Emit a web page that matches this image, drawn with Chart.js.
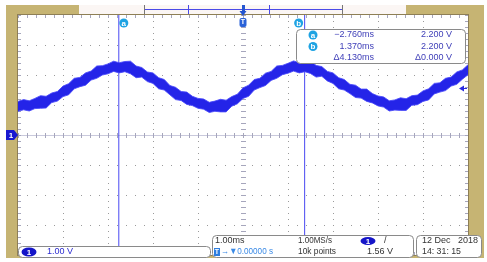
<!DOCTYPE html>
<html>
<head>
<meta charset="utf-8">
<script src="https://cdn.jsdelivr.net/npm/chart.js@4.4.1/dist/chart.umd.min.js"></script>
<style>
  html, body { margin: 0; padding: 0; background: #fff; }
  canvas { display: block; }
</style>
</head>
<body>
<canvas id="scope" width="487" height="262"></canvas>
<script>
// sample times in ms (trigger at 0), 1.00 ms/div
const sampleTimes = [
  -5, -4.875, -4.75, -4.625, -4.5, -4.375, -4.25, -4.125,
  -4, -3.875, -3.75, -3.625, -3.5, -3.375, -3.25, -3.125,
  -3, -2.875, -2.75, -2.625, -2.5, -2.375, -2.25, -2.125,
  -2, -1.875, -1.75, -1.625, -1.5, -1.375, -1.25, -1.125,
  -1, -0.875, -0.75, -0.625, -0.5, -0.375, -0.25, -0.125,
  0, 0.125, 0.25, 0.375, 0.5, 0.625, 0.75, 0.875,
  1, 1.125, 1.25, 1.375, 1.5, 1.625, 1.75, 1.875,
  2, 2.125, 2.25, 2.375, 2.5, 2.625, 2.75, 2.875,
  3, 3.125, 3.25, 3.375, 3.5, 3.625, 3.75, 3.875,
  4, 4.125, 4.25, 4.375, 4.5, 4.625, 4.75, 4.875,
  5
];

// CH1 noisy trace, upper and lower edge of the band (V)
const traceHigh = [
  1.12, 1.18, 1.14, 1.22, 1.31, 1.29, 1.40, 1.45,
  1.63, 1.71, 1.89, 1.92, 2.07, 2.13, 2.30, 2.31,
  2.37, 2.46, 2.41, 2.45, 2.46, 2.30, 2.25, 2.10,
  2.07, 1.91, 1.85, 1.65, 1.59, 1.45, 1.43, 1.29,
  1.22, 1.20, 1.09, 1.13, 1.19, 1.16, 1.28, 1.36,
  1.57, 1.66, 1.85, 1.89, 2.06, 2.12, 2.30, 2.32,
  2.39, 2.47, 2.41, 2.45, 2.47, 2.32, 2.28, 2.12,
  2.07, 1.91, 1.85, 1.69, 1.66, 1.53, 1.53, 1.38,
  1.30, 1.27, 1.14, 1.17, 1.24, 1.21, 1.31, 1.33,
  1.47, 1.54, 1.72, 1.74, 1.89, 1.93, 2.10, 2.17,
  2.34
];
const traceLow = [
  0.79, 0.84, 0.80, 0.88, 0.89, 0.90, 1.08, 1.13,
  1.28, 1.34, 1.54, 1.61, 1.66, 1.83, 1.89, 2.00,
  2.04, 2.12, 2.07, 2.11, 2.04, 1.91, 1.93, 1.78,
  1.72, 1.54, 1.50, 1.34, 1.18, 1.15, 1.02, 0.98,
  0.89, 0.86, 0.75, 0.79, 0.77, 0.77, 0.96, 1.04,
  1.22, 1.29, 1.50, 1.58, 1.65, 1.82, 1.89, 2.01,
  2.06, 2.13, 2.07, 2.11, 2.05, 1.93, 1.96, 1.80,
  1.72, 1.54, 1.50, 1.38, 1.25, 1.23, 1.12, 1.07,
  0.97, 0.93, 0.80, 0.83, 0.82, 0.82, 0.99, 1.01,
  1.12, 1.17, 1.37, 1.43, 1.48, 1.63, 1.69, 1.86,
  2.01
];

const cursorA = -2.76;
const cursorB = 1.37;
const triggerLevel = 1.56;
const timeRange = [-5, 5];  // 10 div
const voltRange = [-4, 4];  // 8 div, 1.00 V/div

const readoutRows = [
  ["a", "\u22122.760ms", "2.200 V"],
  ["b", "1.370ms", "2.200 V"],
  ["", "\u03944.130ms", "\u03940.000 V"]
];

const TAN = "#c6b473";
const FONT = "'Liberation Sans', Arial, sans-serif";

function pts(ys) {
  return sampleTimes.map((t, i) => ({ x: t, y: ys[i] }));
}

function cursorLine(t) {
  return [{ x: t, y: voltRange[0] }, { x: t, y: voltRange[1] }];
}

// tan frame, top memory bar
function drawFrame(chart) {
  const { ctx, chartArea: a } = chart;
  ctx.save();
  ctx.fillStyle = "#fff";
  ctx.fillRect(0, 0, chart.width, chart.height);
  ctx.fillStyle = TAN;
  ctx.fillRect(6, 5, 478, 253);
  ctx.fillStyle = "#fff";
  ctx.fillRect(a.left, a.top, a.right - a.left, a.bottom - a.top);

  // top bar
  ctx.fillStyle = "#fbf6f4";
  ctx.fillRect(79, 5, 327, 9);
  ctx.strokeStyle = "#777";
  ctx.lineWidth = 1;
  ctx.beginPath();
  ctx.moveTo(144.5, 5); ctx.lineTo(144.5, 14);
  ctx.moveTo(342.5, 5); ctx.lineTo(342.5, 14);
  ctx.stroke();
  ctx.strokeStyle = "#4a4ae8";
  ctx.beginPath();
  ctx.moveTo(145, 9.5); ctx.lineTo(342, 9.5);
  ctx.moveTo(188.5, 5); ctx.lineTo(188.5, 14);
  ctx.moveTo(269.5, 5); ctx.lineTo(269.5, 14);
  ctx.stroke();
  ctx.restore();
}

function drawGrid(chart) {
  const { ctx, chartArea: a, scales: { x, y } } = chart;
  const px = v => Math.round(x.getPixelForValue(v));
  const py = v => Math.round(y.getPixelForValue(v));
  ctx.save();
  ctx.fillStyle = "#9a9a9a";
  // dotted division lines
  for (let d = timeRange[0] + 1; d < timeRange[1]; d++) {
    if (d === 0) continue;
    for (let k = 0; k <= (voltRange[1] - voltRange[0]) * 5; k++) {
      ctx.fillRect(px(d), py(voltRange[0] + k / 5), 1, 1);
    }
  }
  for (let d = voltRange[0] + 1; d < voltRange[1]; d++) {
    if (d === 0) continue;
    for (let k = 0; k <= (timeRange[1] - timeRange[0]) * 5; k++) {
      ctx.fillRect(px(timeRange[0] + k / 5), py(d), 1, 1);
    }
  }
  // centre lines with ticks
  ctx.fillStyle = "#c9c9dc";
  ctx.fillRect(a.left, py(0), a.right - a.left, 1);
  ctx.fillStyle = "#a6a6bc";
  for (let k = 0; k <= (timeRange[1] - timeRange[0]) * 5; k++) {
    const xx = px(timeRange[0] + k / 5);
    ctx.fillRect(xx, py(0) - 2, 1, 5);
    ctx.fillRect(xx, a.top, 1, 3);
    ctx.fillRect(xx, a.bottom - 3, 1, 3);
  }
  for (let k = 0; k <= (voltRange[1] - voltRange[0]) * 5; k++) {
    const yy = py(voltRange[0] + k / 5);
    ctx.fillRect(px(0) - 2, yy, 5, 1);
    ctx.fillRect(a.left, yy, 3, 1);
    ctx.fillRect(a.right - 3, yy, 3, 1);
  }
  ctx.strokeStyle = "#8e7f55";
  ctx.lineWidth = 1;
  ctx.strokeRect(a.left - 0.5, a.top - 0.5, a.right - a.left + 1, a.bottom - a.top + 1);
  ctx.restore();
}

function circleLabel(ctx, cx, cy, r, fill, letter) {
  ctx.fillStyle = fill;
  ctx.beginPath();
  ctx.arc(cx, cy, r, 0, Math.PI * 2);
  ctx.fill();
  ctx.fillStyle = "#fff";
  ctx.font = "bold 8px " + FONT;
  ctx.textAlign = "center";
  ctx.textBaseline = "middle";
  ctx.fillText(letter, cx, cy + 0.5);
}

function pill(ctx, cx, cy, w, h) {
  ctx.fillStyle = "#1515c8";
  ctx.beginPath();
  ctx.ellipse(cx, cy, w / 2, h / 2, 0, 0, Math.PI * 2);
  ctx.fill();
  ctx.fillStyle = "#fff";
  ctx.font = "bold 8px " + FONT;
  ctx.textAlign = "center";
  ctx.textBaseline = "middle";
  ctx.fillText("1", cx, cy + 0.5);
}

function panel(ctx, x0, y0, w, h) {
  ctx.fillStyle = "#fff";
  ctx.strokeStyle = "#8a8a8a";
  ctx.lineWidth = 1;
  ctx.beginPath();
  ctx.roundRect(x0 + 0.5, y0 + 0.5, w, h, 4);
  ctx.fill();
  ctx.stroke();
}

function text(ctx, s, x0, y0, color, align, maxW) {
  ctx.fillStyle = color;
  ctx.font = "9px " + FONT;
  ctx.textAlign = align || "left";
  ctx.textBaseline = "middle";
  if (maxW) ctx.fillText(s, x0, y0, maxW);
  else ctx.fillText(s, x0, y0);
}

function drawOverlay(chart) {
  const { ctx, scales: { x, y } } = chart;
  ctx.save();

  // trigger position marker, top bar and graticule top
  const tx = x.getPixelForValue(0);
  ctx.fillStyle = "#2456d0";
  ctx.fillRect(tx - 1, 5, 3, 7);
  ctx.beginPath();
  ctx.moveTo(tx - 3.5, 11); ctx.lineTo(tx + 3.5, 11); ctx.lineTo(tx, 16);
  ctx.closePath(); ctx.fill();
  ctx.fillStyle = "#2a62d8";
  ctx.beginPath();
  ctx.roundRect(tx - 3.5, 18, 7, 9, 2);
  ctx.fill();
  ctx.fillStyle = "#fff";
  ctx.font = "bold 7px " + FONT;
  ctx.textAlign = "center";
  ctx.textBaseline = "middle";
  ctx.fillText("T", tx, 22.5);

  // cursor labels
  circleLabel(ctx, x.getPixelForValue(cursorA) + 5, 23, 4.5, "#1ea3e3", "a");
  circleLabel(ctx, x.getPixelForValue(cursorB) - 6, 23, 4.5, "#1ea3e3", "b");

  // channel 1 ground marker
  const gy = y.getPixelForValue(0);
  ctx.fillStyle = "#1818d0";
  ctx.beginPath();
  ctx.moveTo(6, gy - 5); ctx.lineTo(14, gy - 5); ctx.lineTo(18, gy);
  ctx.lineTo(14, gy + 5); ctx.lineTo(6, gy + 5);
  ctx.closePath(); ctx.fill();
  ctx.fillStyle = "#fff";
  ctx.font = "bold 8px " + FONT;
  ctx.fillText("1", 11, gy + 0.5);

  // trigger level arrow
  const ly = Math.round(y.getPixelForValue(triggerLevel)) + 0.5;
  ctx.fillStyle = "#2a2ae0";
  ctx.beginPath();
  ctx.moveTo(459, ly); ctx.lineTo(464, ly - 3); ctx.lineTo(464, ly + 3);
  ctx.closePath(); ctx.fill();
  ctx.fillRect(463, ly - 0.5, 4, 1);

  // cursor readout
  panel(ctx, 296, 29, 169, 34);
  readoutRows.forEach((r, i) => {
    const ry = 35 + i * 11.5;
    if (r[0]) circleLabel(ctx, 313, ry, 4.5, "#1ea3e3", r[0]);
    text(ctx, r[1], 374, ry, "#3e3eb8", "right");
    text(ctx, r[2], 452, ry, "#3e3eb8", "right");
  });

  // bottom info panels
  panel(ctx, 18, 246, 192, 11);
  pill(ctx, 29, 252, 15, 9);
  text(ctx, "1.00 V", 47, 252, "#2b2bd0");

  panel(ctx, 212, 235, 201, 22);
  text(ctx, "1.00ms", 215, 241, "#333");
  text(ctx, "1.00MS/s", 298, 241, "#333", "left", 34);
  pill(ctx, 368, 241, 15, 8);
  text(ctx, "/", 384, 241, "#333");
  ctx.fillStyle = "#2d7ee0";
  ctx.fillRect(214, 248, 6, 8);
  ctx.fillStyle = "#fff";
  ctx.font = "bold 7px " + FONT;
  ctx.textAlign = "center";
  ctx.fillText("T", 217, 252.5);
  text(ctx, "\u2192\u25BC0.00000 s", 221, 252, "#3a8ae6", "left", 52);
  text(ctx, "10k points", 298, 252, "#333", "left", 38);
  text(ctx, "1.56 V", 393, 252, "#333", "right");

  panel(ctx, 416, 235, 65, 22);
  text(ctx, "12 Dec", 422, 241, "#333");
  text(ctx, "2018", 478, 241, "#333", "right");
  text(ctx, "14: 31: 15", 422, 252, "#333", "left", 39);

  ctx.restore();
}

const scopePlugin = {
  id: "scope",
  beforeDraw: drawFrame,
  beforeDatasetsDraw: drawGrid,
  afterDraw: drawOverlay
};

new Chart(document.getElementById("scope"), {
  type: "line",
  data: {
    datasets: [
      {
        data: pts(traceLow),
        borderColor: "rgba(70,70,250,0.85)",
        borderWidth: 1,
        pointRadius: 0,
        fill: false
      },
      {
        data: pts(traceHigh),
        borderColor: "rgba(70,70,250,0.85)",
        borderWidth: 1,
        backgroundColor: "rgb(36,36,232)",
        pointRadius: 0,
        fill: "-1"
      },
      {
        data: cursorLine(cursorA),
        borderColor: "#4848f2",
        borderWidth: 1,
        pointRadius: 0,
        fill: false
      },
      {
        data: cursorLine(cursorB),
        borderColor: "#4848f2",
        borderWidth: 1,
        pointRadius: 0,
        fill: false
      }
    ]
  },
  options: {
    responsive: false,
    animation: false,
    devicePixelRatio: 1,
    layout: { padding: { left: 18, right: 19, top: 15, bottom: 7 } },
    plugins: { legend: { display: false }, tooltip: { enabled: false } },
    scales: {
      x: { type: "linear", min: timeRange[0], max: timeRange[1], display: false },
      y: { type: "linear", min: voltRange[0], max: voltRange[1], display: false }
    }
  },
  plugins: [scopePlugin]
});
</script>
</body>
</html>
